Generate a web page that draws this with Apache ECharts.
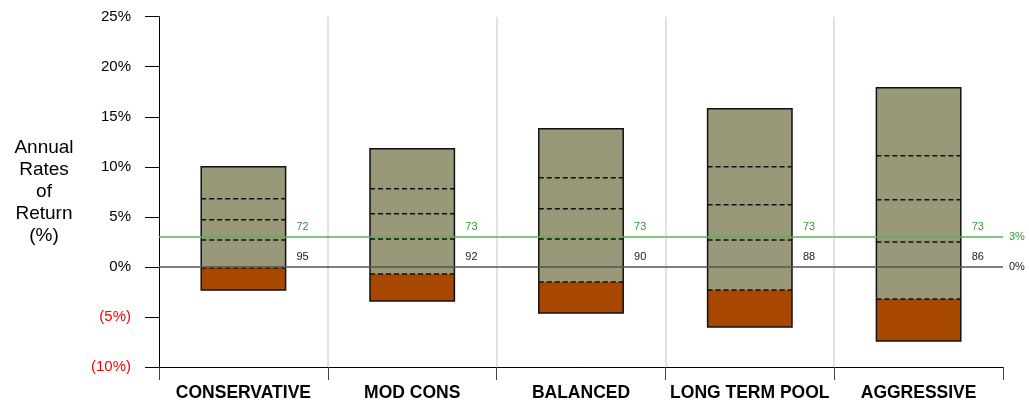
<!DOCTYPE html>
<html>
<head>
<meta charset="utf-8">
<script src="https://cdn.jsdelivr.net/npm/echarts@6/dist/echarts.min.js"></script>
<style>
  html, body { margin: 0; padding: 0; background: #fff; }
  #chart { width: 1029px; height: 402px; }
</style>
</head>
<body>
<div id="chart"></div>
<script>
// Portfolio return ranges (annual %, per percentile band)
const categories = ['CONSERVATIVE', 'MOD CONS', 'BALANCED', 'LONG TERM POOL', 'AGGRESSIVE'];
const lowest  = [-2.3, -3.4, -4.6, -6.0, -7.4];
const p5      = [-0.1, -0.7, -1.5, -2.3, -3.2];
const p25     = [2.7, 2.8, 2.8, 2.7, 2.5];
const p50     = [4.7, 5.3, 5.8, 6.2, 6.7];
const p75     = [6.8, 7.8, 8.9, 10.0, 11.1];
const highest = [10.0, 11.8, 13.8, 15.8, 17.9];
// Chance (%) of beating the target rate and of a positive year
const pctAboveTarget = [72, 73, 73, 73, 73];
const pctAboveZero   = [95, 92, 90, 88, 86];
const targetRate = 3;
const yTicks = { min: -10, max: 25, interval: 5 };

const FONT = 'Arial, "Liberation Sans", sans-serif';

const boxData = categories.map((c, i) => [i, lowest[i], p5[i], p25[i], p50[i], p75[i], highest[i], pctAboveTarget[i], pctAboveZero[i]]);

function renderBox(params, api) {
  const i = api.value(0);
  const half = api.size([1, 0])[0] * 0.25;
  const cx = api.coord([i, 0])[0];
  const x0 = cx - half, x1 = cx + half;
  const y = v => api.coord([i, v])[1];
  const yLow = y(api.value(1)), y5 = y(api.value(2)), yHigh = y(api.value(6));
  const children = [
    { type: 'rect', shape: { x: x0, y: y5, width: x1 - x0, height: yLow - y5 }, style: { fill: '#A84800' } },
    { type: 'rect', shape: { x: x0, y: yHigh, width: x1 - x0, height: y5 - yHigh }, style: { fill: '#999979' } }
  ];
  [2, 3, 4, 5].forEach(k => {
    const yy = y(api.value(k));
    children.push({ type: 'line', shape: { x1: x0, y1: yy, x2: x1, y2: yy },
      style: { stroke: '#111', lineWidth: 1.5, lineDash: [5, 3] } });
  });
  children.push({ type: 'rect', shape: { x: x0, y: yHigh, width: x1 - x0, height: yLow - yHigh },
    style: { fill: null, stroke: '#111', lineWidth: 1.5 } });
  children.push({ type: 'text', x: x1 + 17, y: y(targetRate) - 10,
    style: { text: String(api.value(7)), fill: '#2E9B2E', font: '11px ' + FONT, align: 'center', verticalAlign: 'middle' } });
  children.push({ type: 'text', x: x1 + 17, y: y(0) - 10,
    style: { text: String(api.value(8)), fill: '#222', font: '11px ' + FONT, align: 'center', verticalAlign: 'middle' } });
  return { type: 'group', children };
}

const chart = echarts.init(document.getElementById('chart'), null, { renderer: 'canvas' });
chart.setOption({
  animation: false,
  backgroundColor: '#fff',
  grid: { left: 159, right: 26, top: 16.7, bottom: 34.7, containLabel: false },
  xAxis: {
    type: 'category',
    data: categories,
    boundaryGap: true,
    axisLine: { show: true, onZero: false, lineStyle: { color: '#000', width: 1 } },
    axisTick: { show: true, interval: 0, length: 13, lineStyle: { color: '#444', width: 1 } },
    axisLabel: { interval: 0, color: '#000', fontFamily: FONT, fontWeight: 'bold', fontSize: 17.5, margin: 17 },
    splitLine: { show: true, interval: 0, showMinLine: false, showMaxLine: false, lineStyle: { color: '#d8d8d8', width: 1.5 } }
  },
  yAxis: {
    type: 'value',
    min: yTicks.min, max: yTicks.max, interval: yTicks.interval,
    name: 'Annual\nRates\nof\nReturn\n(%)',
    nameLocation: 'middle',
    nameRotate: 0,
    nameGap: 115,
    nameTextStyle: { color: '#000', fontFamily: FONT, fontSize: 19, lineHeight: 22, align: 'center', verticalAlign: 'middle' },
    axisLine: { show: true, lineStyle: { color: '#000', width: 1 } },
    axisTick: { show: true, length: 14, lineStyle: { color: '#000', width: 1 } },
    axisLabel: {
      fontFamily: FONT, fontSize: 15, margin: 28,
      color: v => (Number(v) < 0 ? '#ff0000' : '#000'),
      formatter: v => (v < 0 ? '(' + (-v) + '%)' : v + '%')
    },
    splitLine: { show: false }
  },
  series: [
    {
      type: 'custom',
      z: 2,
      renderItem: renderBox,
      encode: { x: 0, y: [1, 2, 3, 4, 5, 6] },
      data: boxData
    },
    {
      type: 'line',
      z: 5,
      data: [],
      markLine: {
        silent: true,
        symbol: ['none', 'none'],
        data: [
          { yAxis: targetRate, lineStyle: { color: '#5DAF5D', width: 1.5, type: 'solid' },
            label: { show: true, position: 'end', distance: 6, formatter: targetRate + '%', color: '#2E9B2E', fontFamily: FONT, fontSize: 11 } },
          { yAxis: 0, lineStyle: { color: '#555', width: 1.5, type: 'solid' },
            label: { show: true, position: 'end', distance: 6, formatter: '0%', color: '#222', fontFamily: FONT, fontSize: 11 } }
        ]
      }
    }
  ]
});
</script>
</body>
</html>
